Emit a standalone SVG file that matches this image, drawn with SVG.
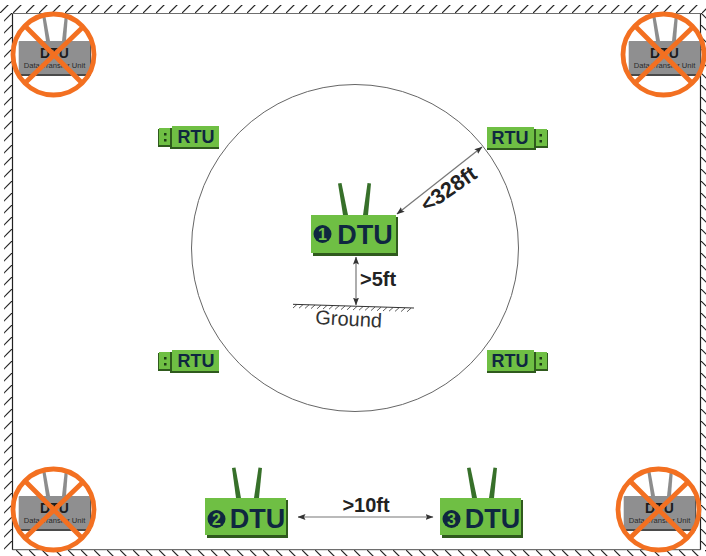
<svg xmlns="http://www.w3.org/2000/svg" width="706" height="556" viewBox="0 0 706 556">
<style>
text{font-family:"Liberation Sans",Arial,sans-serif}
.hatch{fill:none;stroke:#222;stroke-width:1.2}
.wall{fill:none;stroke:#6e6e6e;stroke-width:1.2}
.wallk{fill:none;stroke:#222;stroke-width:1.2}
.ant{fill:#37702a}
.body{fill:#6fbf44}
.shadow{fill:#2f5a1d}
.lbl{font-weight:700;fill:#0f2740;text-anchor:middle}
.num{font-weight:700;fill:#6fbf44;text-anchor:middle;font-size:16px}
.badge{fill:#0f2740}
.dim{font-weight:700;fill:#222;font-size:20px}
.arrow{fill:none;stroke:#777;stroke-width:1.2;marker-start:url(#head);marker-end:url(#head)}
.xant{fill:#8d8d8d}
.xbody{fill:#8f8f90}
.xshadow{fill:#4a4a4a}
.xring{fill:none;stroke:#f37021;stroke-width:4.8}
.dot{fill:#1d3a16}
</style>
<defs>
<marker id="head" viewBox="0 0 8 6" refX="7.5" refY="3" markerWidth="8" markerHeight="6" markerUnits="userSpaceOnUse" orient="auto-start-reverse"><path d="M0 0L8 3L0 6L1.5 3Z" fill="#333"/></marker>
<pattern id="hTop" width="13" height="8" patternUnits="userSpaceOnUse" x="0" y="5"><path d="M-1 9L9 -1" class="hatch"/></pattern>
<pattern id="hLeft" width="8" height="12" patternUnits="userSpaceOnUse" x="4" y="13"><path d="M-1 9L9 -1" class="hatch"/></pattern>
<pattern id="hRight" width="6" height="12" patternUnits="userSpaceOnUse" x="701" y="13"><path d="M-1 -1L7 7" class="hatch"/></pattern>
<pattern id="hBottom" width="13" height="6" patternUnits="userSpaceOnUse" x="3" y="550"><path d="M-1 -1L7 7" class="hatch"/></pattern>
</defs>

<g id="walls">
<rect x="0" y="5" width="706" height="8" fill="url(#hTop)"/>
<rect x="4" y="13" width="8" height="540" fill="url(#hLeft)"/>
<rect x="701" y="13" width="5" height="540" fill="url(#hRight)"/>
<rect x="12" y="550" width="694" height="6" fill="url(#hBottom)"/>
<path class="wall" d="M12.5 13.5H700.5"/>
<path class="wall" d="M12.5 549.7H700.5"/>
<path class="wallk" d="M12.5 13.5V549.7M700.5 13.5V549.7"/>
</g>

<g id="range"><circle cx="355" cy="248" r="163.5" fill="none" stroke="#666" stroke-width="1"/></g>

<g id="ground">
<path d="M293 304.3L414 308" fill="none" stroke="#333" stroke-width="1"/>
<path d="M293 308L297 304.4M299 308.2L303 304.6M305 308.4L309 304.8M311 308.6L315 305M317 308.8L321 305.2M323 309L327 305.4M329 309.2L333 305.6M335 309.4L339 305.8M341 309.6L345 306M347 309.8L351 306.2M353 310L357 306.4M359 310.2L363 306.6M365 310.4L369 306.8M371 310.6L375 307M377 310.800L381 307.200M383 311L387 307.400M389 311.200L393 307.600M395 311.400L399 307.800M401 311.600L405 308M407 311.800L411 308.200" fill="none" stroke="#333" stroke-width="0.8"/>
<text x="315" y="324" font-size="20" fill="#333" transform="rotate(3 315 324)">Ground</text>
</g>

<g id="connectors">
<path class="arrow" d="M397 214L482 147"/>
<path class="arrow" d="M356 257V305"/>
<path class="arrow" d="M298 517H433"/>
</g>

<g id="label-328"><text class="dim" x="427" y="213" style="font-size:21.500px" transform="rotate(-35 427 213)">&lt;328ft</text></g>
<g id="label-5"><text class="dim" x="360" y="286">&gt;5ft</text></g>
<g id="label-10"><text class="dim" x="366" y="512" text-anchor="middle">&gt;10ft</text></g>

<g id="dtu1">
<path class="ant" d="M338 183.5L341.500 183L348 215H343Z"/>
<path class="ant" d="M367.500 183L371 183.500L368 215H363Z"/>
<rect class="shadow" x="313" y="217" width="85" height="39"/>
<rect class="body" x="311" y="215" width="85" height="38"/>
<circle class="badge" cx="322.500" cy="234" r="9"/>
<text class="num" x="322.500" y="240">1</text>
<text class="lbl" x="365" y="244" font-size="27">DTU</text>
</g>

<g id="dtu2">
<path class="ant" d="M232 468L235.500 467.500L241 498H236Z"/>
<path class="ant" d="M258.500 467.500L262 468L259 498H254Z"/>
<rect class="shadow" x="207" y="500" width="81" height="38"/>
<rect class="body" x="205" y="498" width="81" height="37"/>
<circle class="badge" cx="216.500" cy="519" r="9"/>
<text class="num" x="216.500" y="525">2</text>
<text class="lbl" x="257.500" y="528" font-size="27">DTU</text>
</g>

<g id="dtu3">
<path class="ant" d="M467 468L470.500 467.500L477 498H472Z"/>
<path class="ant" d="M493.500 467.500L497 468L494 498H489Z"/>
<rect class="shadow" x="442" y="500" width="81" height="38"/>
<rect class="body" x="440" y="498" width="81" height="37"/>
<circle class="badge" cx="451.500" cy="519" r="9"/>
<text class="num" x="451.500" y="525">3</text>
<text class="lbl" x="492.500" y="528" font-size="27">DTU</text>
</g>

<g id="rtu-tl">
<rect class="shadow" x="158" y="129" width="13" height="18"/>
<rect class="body" x="159" y="128" width="12" height="17"/>
<rect class="dot" x="164" y="133" width="2.500" height="2.500"/><rect class="dot" x="164" y="139" width="2.500" height="2.500"/>
<rect class="shadow" x="170" y="128" width="49" height="21"/>
<rect class="body" x="172" y="126" width="47" height="21"/>
<text class="lbl" x="196" y="143" font-size="18">RTU</text>
</g>
<g id="rtu-bl">
<rect class="shadow" x="158" y="353" width="13" height="18"/>
<rect class="body" x="159" y="352" width="12" height="17"/>
<rect class="dot" x="164" y="357" width="2.500" height="2.500"/><rect class="dot" x="164" y="363" width="2.500" height="2.500"/>
<rect class="shadow" x="170" y="352" width="49" height="21"/>
<rect class="body" x="172" y="350" width="47" height="21"/>
<text class="lbl" x="196" y="367" font-size="18">RTU</text>
</g>
<g id="rtu-tr">
<rect class="shadow" x="535" y="130" width="13" height="18"/>
<rect class="body" x="535" y="129" width="12" height="17"/>
<rect class="dot" x="539.500" y="134" width="2.500" height="2.500"/><rect class="dot" x="539.500" y="140" width="2.500" height="2.500"/>
<rect class="shadow" x="487" y="129" width="49" height="21"/>
<rect class="body" x="487" y="127" width="47" height="21"/>
<text class="lbl" x="510" y="144" font-size="18">RTU</text>
</g>
<g id="rtu-br">
<rect class="shadow" x="535" y="353" width="13" height="18"/>
<rect class="body" x="535" y="352" width="12" height="17"/>
<rect class="dot" x="539.500" y="357" width="2.500" height="2.500"/><rect class="dot" x="539.500" y="363" width="2.500" height="2.500"/>
<rect class="shadow" x="487" y="352" width="49" height="21"/>
<rect class="body" x="487" y="350" width="47" height="21"/>
<text class="lbl" x="510" y="367" font-size="18">RTU</text>
</g>

<g id="xdtu-tl">
<path class="xant" d="M42 14L45 14L50 41H46Z"/><path class="xant" d="M65 14L68 14L66 41H62Z"/>
<rect class="xshadow" x="19" y="43" width="72" height="33" rx="1.500"/>
<rect class="xbody" x="18.700" y="41" width="71.500" height="33" rx="1"/>
<text x="54.500" y="58" font-size="14" font-weight="700" fill="#1c1c1c" text-anchor="middle">DTU</text>
<text x="54.500" y="67.500" font-size="7.600" fill="#2a2a2a" text-anchor="middle">Data Transfer Unit</text>
<circle class="xring" cx="53.500" cy="54.500" r="40.500"/>
<path class="xring" d="M25 26L82 83M83 27L25 83"/>
</g>
<g id="xdtu-tr" transform="translate(610 0)">
<path class="xant" d="M42 14L45 14L50 41H46Z"/><path class="xant" d="M65 14L68 14L66 41H62Z"/>
<rect class="xshadow" x="19" y="43" width="72" height="33" rx="1.500"/>
<rect class="xbody" x="18.700" y="41" width="71.500" height="33" rx="1"/>
<text x="54.500" y="58" font-size="14" font-weight="700" fill="#1c1c1c" text-anchor="middle">DTU</text>
<text x="54.500" y="67.500" font-size="7.600" fill="#2a2a2a" text-anchor="middle">Data Transfer Unit</text>
<circle class="xring" cx="53.500" cy="54.500" r="40.500"/>
<path class="xring" d="M25 26L82 83M83 27L25 83"/>
</g>
<g id="xdtu-bl" transform="translate(0 455)">
<path class="xant" d="M42 14L45 14L50 41H46Z"/><path class="xant" d="M65 14L68 14L66 41H62Z"/>
<rect class="xshadow" x="19" y="43" width="72" height="33" rx="1.500"/>
<rect class="xbody" x="18.700" y="41" width="71.500" height="33" rx="1"/>
<text x="54.500" y="58" font-size="14" font-weight="700" fill="#1c1c1c" text-anchor="middle">DTU</text>
<text x="54.500" y="67.500" font-size="7.600" fill="#2a2a2a" text-anchor="middle">Data Transfer Unit</text>
<circle class="xring" cx="53.500" cy="54.500" r="40.500"/>
<path class="xring" d="M25 26L82 83M83 27L25 83"/>
</g>
<g id="xdtu-br" transform="translate(605 455)">
<path class="xant" d="M42 14L45 14L50 41H46Z"/><path class="xant" d="M65 14L68 14L66 41H62Z"/>
<rect class="xshadow" x="19" y="43" width="72" height="33" rx="1.500"/>
<rect class="xbody" x="18.700" y="41" width="71.500" height="33" rx="1"/>
<text x="54.500" y="58" font-size="14" font-weight="700" fill="#1c1c1c" text-anchor="middle">DTU</text>
<text x="54.500" y="67.500" font-size="7.600" fill="#2a2a2a" text-anchor="middle">Data Transfer Unit</text>
<circle class="xring" cx="53.500" cy="54.500" r="40.500"/>
<path class="xring" d="M25 26L82 83M83 27L25 83"/>
</g>
</svg>
